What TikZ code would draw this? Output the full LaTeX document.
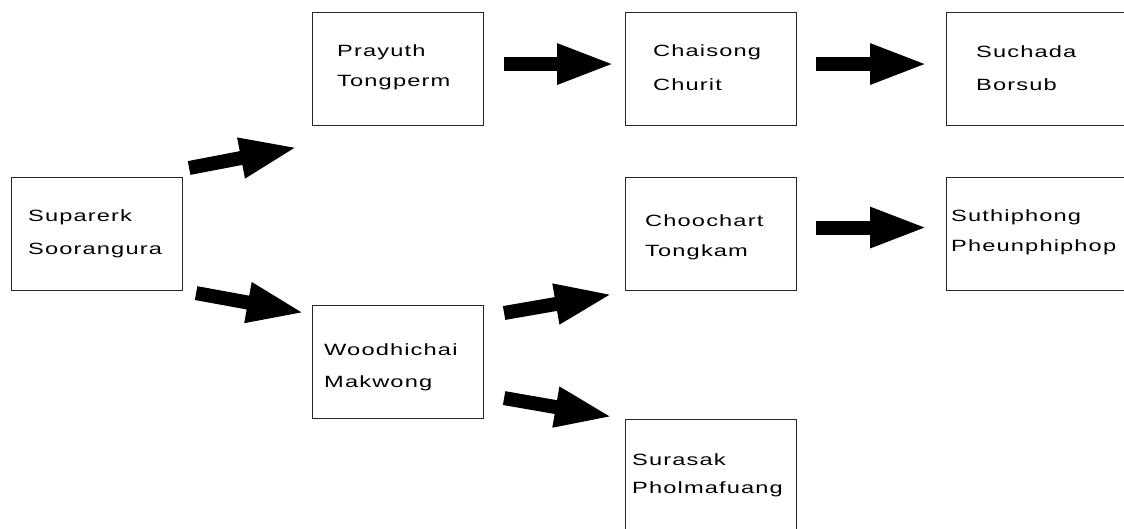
\documentclass[tikz,border=0pt]{standalone}
\usepackage{fontspec}
\usetikzlibrary{arrows.meta,calc}
\newfontfamily\lsf[FakeStretch=1.45,LetterSpace=7]{Liberation Sans}
\tikzset{
  box/.style={draw=black!85, line width=1.1pt, anchor=north west, inner sep=0pt,
    minimum width=171pt, minimum height=113pt},
  lbl/.style={anchor=base west, inner sep=0pt, align=left, text=black,
    font={\lsf\fontsize{16.3}{32}\selectfont}},
  fat/.style={line width=14pt, -{Triangle[length=58pt,width=37pt]}, black}
}
\begin{document}
\begin{tikzpicture}[x=1pt,y=-1pt]
\useasboundingbox (0,0) rectangle (1124,529);
\clip (0,0) rectangle (1124,529);
% boxes
\node[box] (sup) at (11,177) {};
\node[box] (pra) at (312,12) {};
\node[box] (woo) at (312,305) {};
\node[box] (cha) at (625,12) {};
\node[box] (cho) at (625,177) {};
\node[box, minimum height=140pt] (sur) at (625,419) {};
\node[box, minimum width=200pt] (suc) at (946,12) {};
\node[box, minimum width=200pt] (sut) at (946,177) {};
% labels (anchored at the baseline of the second line)
\node[lbl, font={\lsf\fontsize{16.3}{33}\selectfont}] (supt) at (28,255) {Suparerk\\Soorangura};
\node[lbl, font={\lsf\fontsize{16.3}{30}\selectfont}] (prat) at (337,87) {Prayuth\\Tongperm};
\node[lbl, font={\lsf\fontsize{16.3}{34}\selectfont}] (chat) at (653,91) {Chaisong\\Churit};
\node[lbl, font={\lsf\fontsize{16.3}{33}\selectfont}] (suct) at (976,91) {Suchada\\Borsub};
\node[lbl, font={\lsf\fontsize{16.3}{30}\selectfont}] (chot) at (645,257) {Choochart\\Tongkam};
\node[lbl, font={\lsf\fontsize{16.3}{30}\selectfont}] (sutt) at (951,252) {Suthiphong\\Pheunphiphop};
\node[lbl, font={\lsf\fontsize{16.3}{32}\selectfont}] (woot) at (324,387) {Woodhichai\\Makwong};
\node[lbl, font={\lsf\fontsize{16.3}{28}\selectfont}] (surt) at (632,493) {Surasak\\Pholmafuang};
% arrows
\draw[fat] ($(sup.north east)+(6,-9)$) -- ($(pra.south west)+(-14,21)$);
\draw[fat] ($(sup.south east)+(13,2)$) -- ($(woo.north west)+(-7,8)$);
\draw[fat] ($(pra.east)+(20,-5)$) -- ($(cha.west)+(-10,-5)$);
\draw[fat] ($(cha.east)+(19,-5)$) -- ($(suc.west)+(-18,-5)$);
\draw[fat] ($(cho.east)+(19,-6.5)$) -- ($(sut.west)+(-18,-6.5)$);
\draw[fat] ($(woo.north east)+(20,8)$) -- ($(cho.south west)+(-12,3)$);
\draw[fat] ($(woo.south east)+(20,-21)$) -- ($(sur.north west)+(-12,-2)$);
\end{tikzpicture}
\end{document}
